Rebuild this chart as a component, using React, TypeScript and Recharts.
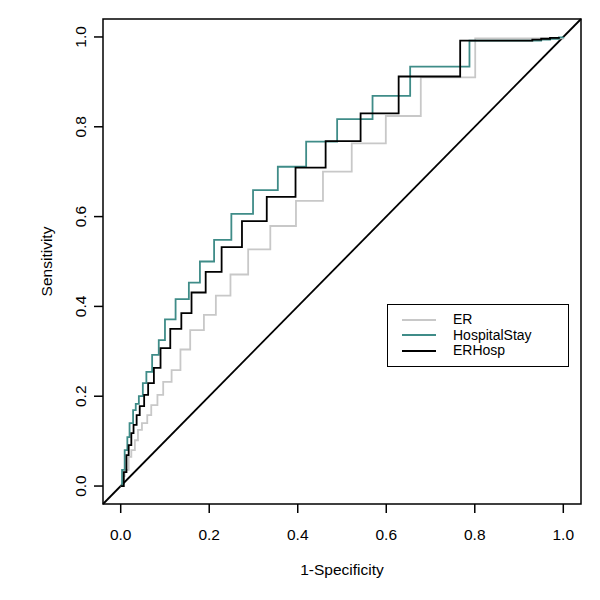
import { LineChart, Line, XAxis, YAxis, ReferenceLine, ReferenceArea } from 'recharts';

// ROC curves (x = 1-specificity, y = sensitivity)
const ER_FPR = [0, 0.005, 0.009, 0.018, 0.024, 0.032, 0.039, 0.048, 0.06, 0.069, 0.083, 0.096, 0.115, 0.135, 0.157, 0.188, 0.215, 0.248, 0.288, 0.338, 0.396, 0.457, 0.522, 0.599, 0.678, 0.801, 1];
const ER_TPR = [0, 0.022, 0.036, 0.065, 0.08, 0.102, 0.125, 0.14, 0.158, 0.18, 0.203, 0.232, 0.258, 0.304, 0.347, 0.381, 0.424, 0.471, 0.527, 0.579, 0.635, 0.7, 0.763, 0.824, 0.91, 0.997, 1];

const STAY_FPR = [0, 0.003, 0.009, 0.015, 0.02, 0.028, 0.034, 0.041, 0.05, 0.058, 0.071, 0.086, 0.1, 0.124, 0.154, 0.179, 0.211, 0.25, 0.299, 0.355, 0.419, 0.489, 0.569, 0.654, 0.788, 0.95, 0.97, 0.99, 1];
const STAY_TPR = [0, 0.036, 0.08, 0.109, 0.14, 0.169, 0.183, 0.2, 0.229, 0.254, 0.292, 0.325, 0.371, 0.416, 0.453, 0.5, 0.548, 0.606, 0.659, 0.711, 0.767, 0.817, 0.869, 0.934, 0.992, 0.994, 0.996, 0.999, 1];

const ERHOSP_FPR = [0, 0.007, 0.013, 0.018, 0.024, 0.029, 0.036, 0.043, 0.053, 0.062, 0.075, 0.09, 0.112, 0.137, 0.16, 0.192, 0.228, 0.274, 0.33, 0.395, 0.463, 0.542, 0.628, 0.767, 0.93, 0.95, 0.97, 0.99];
const ERHOSP_TPR = [0, 0.031, 0.069, 0.091, 0.118, 0.136, 0.158, 0.178, 0.203, 0.229, 0.263, 0.307, 0.35, 0.385, 0.431, 0.477, 0.532, 0.59, 0.644, 0.709, 0.768, 0.83, 0.912, 0.992, 0.994, 0.996, 0.998, 1];

const TICKS = [0, 0.2, 0.4, 0.6, 0.8, 1];
const DOMAIN: [number, number] = [-0.04, 1.04];

const toPoints = (xs: number[], ys: number[]) => xs.map((x, i) => ({ x, y: ys[i] }));

const SERIES = [
  { name: 'ER', color: '#c8c8c8', data: toPoints(ER_FPR, ER_TPR) },
  { name: 'HospitalStay', color: '#3f8c88', data: toPoints(STAY_FPR, STAY_TPR) },
  { name: 'ERHosp', color: '#000000', data: toPoints(ERHOSP_FPR, ERHOSP_TPR) },
];

const FONT = '"Liberation Sans", Arial, Helvetica, sans-serif';
const FS = 15.5;

function YTick({ x, y, payload }: any) {
  return (
    <text x={x} y={y} transform={`rotate(-90, ${x}, ${y})`} textAnchor="middle" fill="#000" fontSize={FS} fontFamily={FONT}>
      {Number(payload.value).toFixed(1)}
    </text>
  );
}

function LegendBox() {
  return (
    <div
      style={{
        position: 'absolute',
        left: 387,
        top: 304,
        width: 182,
        height: 63,
        border: '1.5px solid #000',
        background: '#fff',
        fontFamily: FONT,
        fontSize: 14,
        paddingTop: 7,
        boxSizing: 'border-box',
      }}
    >
      {SERIES.map((s) => (
        <div key={s.name} style={{ display: 'flex', alignItems: 'center', height: 15.5 }}>
          <div style={{ marginLeft: 14, width: 34, height: 2, background: s.color }} />
          <span style={{ marginLeft: 17, lineHeight: '15px' }}>{s.name}</span>
        </div>
      ))}
    </div>
  );
}

export default function App() {
  return (
    <div style={{ position: 'absolute', left: 0, top: 0, width: 600, height: 600, background: '#fff' }}>
      <LineChart width={600} height={600} margin={{ top: 19, right: 19, bottom: 0, left: 0 }}>
        <XAxis
          dataKey="x"
          type="number"
          domain={DOMAIN}
          ticks={TICKS}
          allowDataOverflow
          axisLine={false}
          tickSize={9}
          tickMargin={16}
          tickLine={{ stroke: '#000', strokeWidth: 1.5 }}
          tickFormatter={(v: number) => v.toFixed(1)}
          tick={{ fill: '#000', fontSize: FS, fontFamily: FONT }}
          height={96}
          label={({ viewBox }: any) => (
            <text x={viewBox.x + viewBox.width / 2} y={viewBox.y + 71} textAnchor="middle" fill="#000" fontSize={FS} fontFamily={FONT}>
              1-Specificity
            </text>
          )}
        />
        <YAxis
          dataKey="y"
          type="number"
          domain={DOMAIN}
          ticks={TICKS}
          allowDataOverflow
          axisLine={false}
          tickSize={9}
          tickMargin={8}
          tickLine={{ stroke: '#000', strokeWidth: 1.5 }}
          tick={<YTick />}
          width={103}
          label={({ viewBox }: any) => {
            const cx = viewBox.x + 52;
            const cy = viewBox.y + viewBox.height / 2;
            return (
              <text x={cx} y={cy} transform={`rotate(-90, ${cx}, ${cy})`} textAnchor="middle" fill="#000" fontSize={FS} fontFamily={FONT}>
                Sensitivity
              </text>
            );
          }}
        />
        <ReferenceLine
          segment={[{ x: -0.04, y: -0.04 }, { x: 1.04, y: 1.04 }]}
          stroke="#000"
          strokeWidth={1.8}
          ifOverflow="visible"
        />
        {SERIES.map((s) => (
          <Line
            key={s.name}
            data={s.data}
            dataKey="y"
            name={s.name}
            type="stepAfter"
            stroke={s.color}
            strokeWidth={1.8}
            dot={false}
            activeDot={false}
            isAnimationActive={false}
          />
        ))}
        <ReferenceArea x1={-0.04} x2={1.04} y1={-0.04} y2={1.04} fill="none" stroke="#000" strokeWidth={1.5} ifOverflow="visible" />
      </LineChart>
      <LegendBox />
    </div>
  );
}
